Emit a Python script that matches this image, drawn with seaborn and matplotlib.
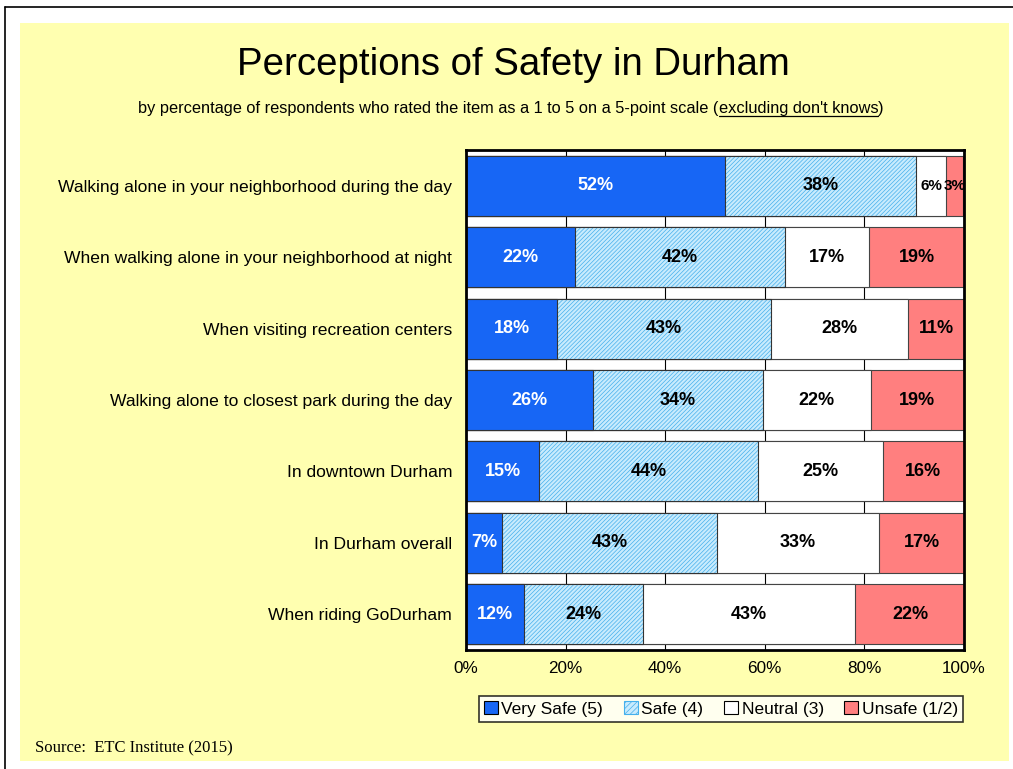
#import libraries
import numpy as np
import pandas as pd
import matplotlib
matplotlib.use('Agg')
import matplotlib.pyplot as plt
from matplotlib.patches import Patch, Rectangle
from matplotlib.lines import Line2D
from matplotlib.ticker import PercentFormatter
import seaborn as sns

#chart data (percent of respondents)
items = ['Walking alone in your neighborhood during the day',
         'When walking alone in your neighborhood at night',
         'When visiting recreation centers',
         'Walking alone to closest park during the day',
         'In downtown Durham',
         'In Durham overall',
         'When riding GoDurham']
very_safe = [52.0, 21.9, 18.3, 25.5, 14.7, 7.2, 11.6]
safe = [38.4, 42.2, 42.9, 34.1, 43.9, 43.2, 23.9]
neutral = [6.0, 16.8, 27.6, 21.7, 25.1, 32.6, 42.6]
unsafe = [3.4, 19.1, 11.4, 18.7, 16.3, 17.0, 22.1]
series_names = ['Very Safe (5)', 'Safe (4)', 'Neutral (3)', 'Unsafe (1/2)']

df = pd.DataFrame({'item': items, 'Very Safe (5)': very_safe, 'Safe (4)': safe,
                   'Neutral (3)': neutral, 'Unsafe (1/2)': unsafe})
cum = df[series_names].cumsum(axis=1)

BG = '#ffffb0'
BLUE = '#1766f5'
LIGHTBLUE = '#c8ebfd'
HATCH = '#45b0ec'
RED = '#ff7f7f'

sns.set_style('white')
plt.rcParams['font.family'] = ['Liberation Sans', 'DejaVu Sans']
plt.rcParams['text.color'] = 'black'
plt.rcParams['xtick.color'] = 'black'
plt.rcParams['ytick.color'] = 'black'
plt.rcParams['hatch.linewidth'] = 0.5

fig = plt.figure(figsize=(10.13, 7.69), dpi=100)
fig.patch.set_facecolor('white')
# yellow panel + outer frame lines
fig.patches.append(Rectangle((20/1013, 1-761/769), 989/1013, 738/769, transform=fig.transFigure,
                             facecolor=BG, edgecolor='none', zorder=-5))
fig.lines.append(Line2D([5/1013, 1], [1-7/769, 1-7/769], transform=fig.transFigure, color='black', lw=1.2))
fig.lines.append(Line2D([5/1013, 5/1013], [0, 1-7/769], transform=fig.transFigure, color='black', lw=1.2))

ax = fig.add_axes([466/1013, 1-650/769, 498/1013, 500/769])
ax.set_facecolor('white')
ax.set_zorder(2)

bw = 0.84
# stacked bars drawn as overlapping cumulative totals, widest first
sns.barplot(x=cum['Unsafe (1/2)'], y=df['item'], orient='h', color=RED, width=bw,
            edgecolor='#444444', linewidth=0.8, saturation=1, ax=ax)
sns.barplot(x=cum['Neutral (3)'], y=df['item'], orient='h', color='white', width=bw,
            edgecolor='#444444', linewidth=0.8, saturation=1, ax=ax)
sns.barplot(x=cum['Safe (4)'], y=df['item'], orient='h', color=LIGHTBLUE, width=bw,
            edgecolor=HATCH, hatch='////////', linewidth=0, saturation=1, ax=ax)
sns.barplot(x=cum['Safe (4)'], y=df['item'], orient='h', fill=False, width=bw,
            edgecolor='#333333', linewidth=0.8, ax=ax)
sns.barplot(x=cum['Very Safe (5)'], y=df['item'], orient='h', color=BLUE, width=bw,
            edgecolor='#333333', linewidth=0.8, saturation=1, ax=ax)

#value labels in the middle of each segment (narrow ones a bit smaller)
for i in range(len(items)):
    left = 0
    for j, s in enumerate(series_names):
        v = df.loc[i, s]
        fs = 11 if v < 6.5 else 13
        ax.text(left + v / 2, i, f'{v:.0f}%', ha='center', va='center', fontsize=fs,
                fontweight='bold', color='white' if j == 0 else 'black')
        left += v

ax.set_xlim(0, 100)
ax.set_ylim(len(items) - 0.5, -0.5)
ax.set_xticks([0, 20, 40, 60, 80, 100])
ax.xaxis.set_major_formatter(PercentFormatter(decimals=0))
ax.grid(axis='x', color='black', lw=0.8)
ax.set_axisbelow(True)
ax.set_xlabel('')
ax.set_ylabel('')
ax.tick_params(axis='x', labelsize=12.3, length=0, pad=8)
ax.tick_params(axis='y', labelsize=12.6, length=0, pad=10)
for sp in ax.spines.values():
    sp.set_visible(True)
    sp.set_color('black')
    sp.set_linewidth(2)

#legend
handles = [Patch(facecolor=BLUE, edgecolor='black', lw=0.8),
           Patch(facecolor=LIGHTBLUE, edgecolor=HATCH, hatch='//////', lw=0.8),
           Patch(facecolor='white', edgecolor='black', lw=0.8),
           Patch(facecolor=RED, edgecolor='black', lw=0.8)]
leg = fig.legend(handles, series_names, loc='center', bbox_to_anchor=(721/1013, 1-709/769),
                 ncol=4, fontsize=12.5, frameon=True, fancybox=False, edgecolor='black',
                 handlelength=0.8, handleheight=0.8, handletextpad=0.2, columnspacing=1.2,
                 borderpad=0.3)
leg.get_frame().set_linewidth(1.2)
leg.get_frame().set_facecolor('white')

#titles
fig.text(513/1013, 1-65/769, 'Perceptions of Safety in Durham', ha='center', va='center', fontsize=27.6)

sub_parts = ['by percentage of respondents who rated the item as a 1 to 5 on a 5-point scale (',
             "excluding don't knows", ')']
sub_font = dict(fontsize=11.8, va='center')
sub_y = 1 - 109 / 769
texts = [fig.text(0, sub_y, p, ha='left', **sub_font) for p in sub_parts]
fig.canvas.draw()
r = fig.canvas.get_renderer()
widths = [t.get_window_extent(r).width / fig.bbox.width for t in texts]
x = 511/1013 - sum(widths) / 2
for t, w in zip(texts, widths):
    t.set_x(x)
    x += w
fig.canvas.draw()
ext = texts[1].get_window_extent(r)
uy = (ext.y0 + 1) / fig.bbox.height
fig.lines.append(Line2D([ext.x0 / fig.bbox.width, ext.x1 / fig.bbox.width], [uy, uy],
                        transform=fig.transFigure, color='black', lw=0.9))

fig.text(35/1013, 1-748/769, 'Source:  ETC Institute (2015)', ha='left', va='center',
         fontsize=12, family=['Liberation Serif', 'DejaVu Serif'])

plt.savefig('out.png', dpi=100, facecolor=fig.get_facecolor())
